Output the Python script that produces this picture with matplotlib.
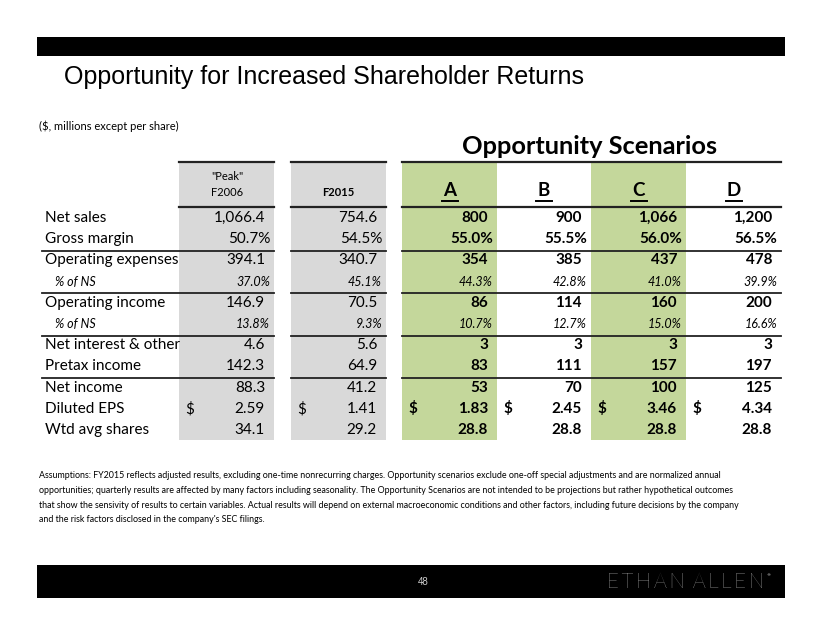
import numpy as np
import matplotlib.pyplot as plt
from matplotlib.patches import Rectangle

# ---- data ----
row_labels = ['Net sales', 'Gross margin', 'Operating expenses', '% of NS',
              'Operating income', '% of NS', 'Net interest & other',
              'Pretax income', 'Net income', 'Diluted EPS', 'Wtd avg shares']
row_kind = ['num', 'pct', 'num', 'sub', 'num', 'sub', 'num', 'num', 'num', 'eps', 'sh']

peak_f2006 = [1066.4, 50.7, 394.1, 37.0, 146.9, 13.8, 4.6, 142.3, 88.3, 2.59, 34.1]
f2015 = [754.6, 54.5, 340.7, 45.1, 70.5, 9.3, 5.6, 64.9, 41.2, 1.41, 29.2]

scenario_names = ['A', 'B', 'C', 'D']
scen_a = [800, 55.0, 354, 44.3, 86, 10.7, 3, 83, 53, 1.83, 28.8]
scen_b = [900, 55.5, 385, 42.8, 114, 12.7, 3, 111, 70, 2.45, 28.8]
scen_c = [1066, 56.0, 437, 41.0, 160, 15.0, 3, 157, 100, 3.46, 28.8]
scen_d = [1200, 56.5, 478, 39.9, 200, 16.6, 3, 197, 125, 4.34, 28.8]

title = 'Opportunity for Increased Shareholder Returns'
subtitle = '($, millions except per share)'
footnote = [
    "Assumptions: FY2015 reflects adjusted results, excluding one-time nonrecurring charges. Opportunity scenarios exclude one-off special adjustments and are normalized annual",
    "opportunities; quarterly results are affected by many factors including seasonality. The Opportunity Scenarios are not intended to be projections but rather hypothetical outcomes",
    "that show the sensivity of results to certain variables. Actual results will depend on external macroeconomic conditions and other factors, including future decisions by the company",
    "and the risk factors disclosed in the company's SEC filings.",
]

GRAY = '#d9d9d9'
GREEN = '#c4d79b'
LINE = '#222222'
TF = 'Lato'


def fmt(v, kind, whole):
    if kind in ('pct', 'sub'):
        return f'{v:.1f}%'
    if kind == 'eps':
        return f'{v:.2f}'
    if whole and kind == 'num':
        return f'{v:,.0f}'
    return f'{v:,.1f}'


fig = plt.figure(figsize=(8.22, 6.35), dpi=100)
ax = fig.add_axes([0, 0, 1, 1])
ax.set_xlim(0, 822)
ax.set_ylim(635, 0)
ax.axis('off')

# header / footer bars
ax.add_patch(Rectangle((37, 37), 748, 19, color='black', lw=0))
ax.add_patch(Rectangle((37, 565), 748, 33, color='black', lw=0))
ax.text(423, 582, '48', color='#cccccc', fontsize=7, ha='center', va='center', family='Liberation Sans')
brand = '\u2009'.join('ETHAN') + '\u2009\u2009\u2009' + '\u2009'.join('ALLEN')
ax.text(764, 582, brand, color='white', fontsize=14.8, ha='right', va='center',
        family=[TF, 'DejaVu Sans'], fontweight='light')
ax.text(766, 575, '®', color='white', fontsize=3, ha='left', va='center')

ax.text(64, 77, title, fontsize=18, family='Liberation Sans', va='center', ha='left')
ax.text(39, 126, subtitle, fontsize=8, family=TF, va='center', ha='left')
ax.text(590, 146, 'Opportunity Scenarios', fontsize=18.3, family=TF, fontweight='bold',
        ha='center', va='center')

# column layout
top, head, bottom = 162, 207, 440
cols = [(179, 274), (291, 386)]
scen_cols = [(402, 497), (497, 591), (591, 686), (686, 781)]
rows_y = np.linspace(218, 430, len(row_labels))

for x0, x1 in cols:
    ax.add_patch(Rectangle((x0, top), x1 - x0, bottom - top, color=GRAY, lw=0))
    ax.plot([x0, x1], [top, top], color=LINE, lw=1.6)
    ax.plot([x0, x1], [head, head], color=LINE, lw=1.6)
for i, (x0, x1) in enumerate(scen_cols):
    if i % 2 == 0:
        ax.add_patch(Rectangle((x0, top), x1 - x0, bottom - top, color=GREEN, lw=0))
ax.plot([402, 781], [top, top], color=LINE, lw=1.6)
ax.plot([402, 781], [head, head], color=LINE, lw=1.6)

# separator lines after gross margin, % of NS, % of NS, pretax income
for r in (1, 3, 5, 7):
    yy = (rows_y[r] + rows_y[r + 1]) / 2 + 1
    for x0, x1 in [(42, 274), (291, 386), (402, 781)]:
        ax.plot([x0, x1], [yy, yy], color=LINE, lw=1.3)

# column headers
ax.text(227, 176, '"Peak"', fontsize=8, family=TF, ha='center', va='center')
ax.text(227, 193, 'F2006', fontsize=8, family=TF, ha='center', va='center')
ax.text(338, 193, 'F2015', fontsize=8, family=TF, fontweight='bold', ha='center', va='center')
for (x0, x1), name in zip(scen_cols, scenario_names):
    ax.text((x0 + x1) / 2, 191, name, fontsize=13.5, family=TF, fontweight='bold',
            ha='center', va='center')
    ax.plot([(x0 + x1) / 2 - 8, (x0 + x1) / 2 + 8], [201, 201], color='black', lw=1.4)

# row labels
for y, lab, kind in zip(rows_y, row_labels, row_kind):
    if kind == 'sub':
        ax.text(55, y, lab, fontsize=9, family=TF, style='italic', ha='left', va='center')
    else:
        ax.text(45, y, lab, fontsize=11, family=TF, ha='left', va='center')


def draw_col(vals, x0, x1, bold, whole):
    wt = 'bold' if bold else 'normal'
    for y, v, kind in zip(rows_y, vals, row_kind):
        s = fmt(v, kind, whole)
        right = x1 - 4 if kind in ('pct', 'sub') else x1 - 9
        if kind == 'sub':
            ax.text(right, y, s, fontsize=9, family=TF, style='italic', ha='right', va='center')
        else:
            ax.text(right, y, s, fontsize=11, family=TF, fontweight=wt, ha='right', va='center')
        if kind == 'eps':
            ax.text(x0 + 6, y, '$', fontsize=11, family=TF, fontweight=wt, ha='left', va='center')


draw_col(peak_f2006, *cols[0], bold=False, whole=False)
draw_col(f2015, *cols[1], bold=False, whole=False)
for (x0, x1), vals in zip(scen_cols, [scen_a, scen_b, scen_c, scen_d]):
    draw_col(vals, x0, x1, bold=True, whole=True)

for i, line in enumerate(footnote):
    ax.text(39, 476 + i * 14.5, line, fontsize=6.4, family=TF, ha='left', va='center')

fig.savefig('out.png', dpi=100)
